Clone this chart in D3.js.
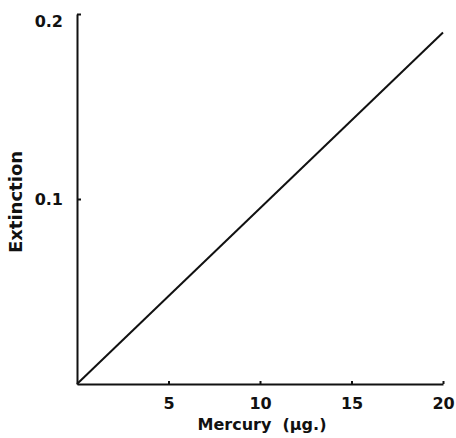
<!DOCTYPE html>
<html>
<head>
<meta charset="utf-8">
<script src="https://cdn.jsdelivr.net/npm/d3@7"></script>
<style>
  body { margin: 0; background: #fff; }
  text { font-family: "DejaVu Sans", sans-serif; font-weight: bold; fill: #111; }
</style>
</head>
<body>
<svg id="chart" width="456" height="438"></svg>
<script>
// data
var mercury = [0, 20];
var extinction = [0, 0.19];
var xTicks = [5, 10, 15, 20];
var yTicks = [0.1, 0.2];

var svg = d3.select("#chart");

var x = d3.scaleLinear().domain([0, 20]).range([77, 443]);
var y = d3.scaleLinear().domain([0, 0.2]).range([384, 14]);

// x axis
svg.append("g")
    .attr("transform", "translate(0," + y(0) + ")")
    .call(d3.axisBottom(x).tickValues(xTicks).tickSize(-3).tickSizeOuter(0).tickPadding(14));

// y axis, ticks point inward
svg.append("g")
    .attr("class", "yaxis")
    .attr("transform", "translate(" + x(0) + ",0)")
    .call(d3.axisLeft(y).tickValues(yTicks).tickSize(-4).tickSizeOuter(0).tickPadding(14)
      .tickFormat(d3.format(".1f")));

svg.selectAll(".domain, .tick line")
    .attr("stroke", "#111")
    .attr("stroke-width", 2);
svg.selectAll(".tick text")
    .style("font-size", "16px")
    .style("font-family", "'DejaVu Sans', sans-serif")
    .style("font-weight", "bold")
    .attr("fill", "#111");
// top label sits a little below its tick
svg.selectAll(".yaxis .tick text")
    .filter(function (d) { return d === 0.2; })
    .attr("dy", "0.75em");

// the line
var pts = mercury.map(function (d, i) { return [d, extinction[i]]; });
svg.append("path")
    .datum(pts)
    .attr("fill", "none")
    .attr("stroke", "#111")
    .attr("stroke-width", 2)
    .attr("d", d3.line().x(function (d) { return x(d[0]); }).y(function (d) { return y(d[1]); }));

// axis titles
svg.append("text")
    .attr("x", 262)
    .attr("y", 430)
    .attr("text-anchor", "middle")
    .style("font-size", "16px")
    .style("white-space", "pre")
    .text("Mercury  (\u03bcg.)");

svg.append("text")
    .attr("transform", "translate(22,202) rotate(-90)")
    .attr("text-anchor", "middle")
    .style("font-size", "18px")
    .text("Extinction");
</script>
</body>
</html>
